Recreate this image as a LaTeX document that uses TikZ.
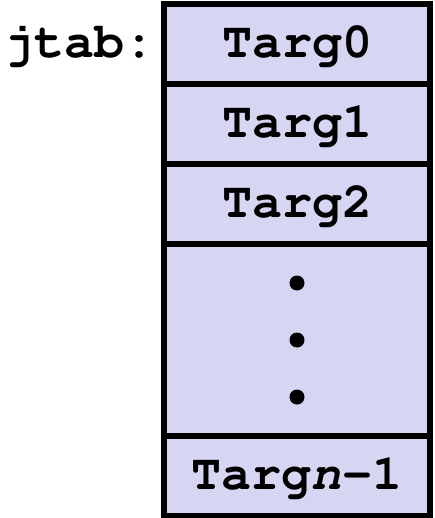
\documentclass[tikz,border=0pt]{standalone}
\usepackage[T1]{fontenc}
\usetikzlibrary{positioning}

\definecolor{cellfill}{RGB}{214,214,243}
\newcommand{\cellfont}{\fontsize{50}{50}\fontfamily{pcr}\bfseries\selectfont}

\begin{document}
\begin{tikzpicture}[x=1pt,y=1pt,%
          cell/.style={rectangle,
              draw=black,
              fill=cellfill,
              line width=5.5pt,
              outer sep=0pt,
              minimum width=266pt,
              minimum height=80pt,
              text height=27pt,
              text depth=0pt,
              font=\cellfont},
          gap/.style={cell,minimum height=192pt},
          lbl/.style={font=\cellfont, inner sep=0pt},
        ]
        \useasboundingbox (0,0) rectangle (434,-518);

        \node[cell] (targ0) at (297,-44) {Targ0};
        \node[cell, below=0pt of targ0] (targ1) {Targ1};
        \node[cell, below=0pt of targ1] (targ2) {Targ2};
        \node[gap,  below=0pt of targ2] (dots) {};
        \node[cell, below=0pt of dots] (targn) {Targ\textit{n}-1};

        \node[lbl, anchor=base east] (jtab) at ([xshift=-9pt]targ0.base west) {jtab:};

        \foreach \dy in {57,0,-57}
            \fill ([yshift=\dy pt]dots.center) circle (7.5pt);
      \end{tikzpicture}
\end{document}
